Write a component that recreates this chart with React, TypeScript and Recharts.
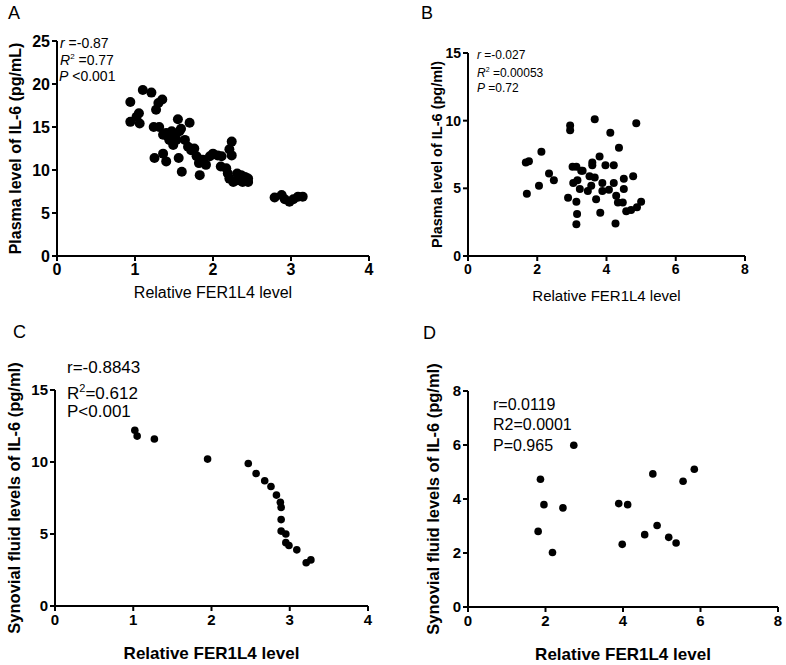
import React from "react";
import {
  ScatterChart,
  Scatter,
  XAxis,
  YAxis,
  Label,
} from "recharts";

// Panel A: plasma IL-6 vs FER1L4 (strong negative)
const plasmaFerA = [
  0.94, 0.94, 1.02, 1.05, 1.06, 1.1, 1.21, 1.27, 1.3, 1.35, 1.24, 1.31, 1.36,
  1.25, 1.36, 1.4, 1.42, 1.47, 1.51, 1.49, 1.55, 1.57, 1.59, 1.56, 1.6, 1.7,
  1.64, 1.68, 1.72, 1.76, 1.79, 1.82, 1.83, 1.87, 1.91, 1.96, 2.0, 2.06, 2.11,
  2.1, 2.17, 2.19, 2.21, 2.24, 2.24, 2.21, 2.26, 2.31, 2.36, 2.41, 2.45, 2.45,
  2.38, 2.32, 1.4, 1.44, 1.53, 2.79, 2.88, 2.92, 2.98, 3.03, 3.09, 3.15,
];
const plasmaIl6A = [
  17.9, 15.6, 16.2, 16.6, 15.4, 19.3, 19.0, 17.0, 17.8, 18.2, 15.0, 15.0, 14.1,
  11.4, 11.9, 11.0, 13.9, 14.5, 13.9, 12.9, 15.9, 14.5, 14.8, 11.4, 9.8, 15.5,
  13.5, 12.7, 12.3, 12.5, 11.6, 10.8, 9.4, 11.2, 10.6, 11.6, 11.9, 11.7, 11.6,
  10.4, 10.2, 9.6, 12.4, 13.3, 11.7, 9.0, 8.6, 9.6, 9.4, 9.2, 9.0, 8.6,
  8.6, 8.8, 14.3, 13.5, 13.5, 6.8, 7.1, 6.6, 6.3, 6.6, 6.9, 6.9,
];

// Panel B: plasma IL-6 vs FER1L4 (no correlation)
const plasmaFerB = [
  1.67, 1.76, 1.7, 2.12, 2.05, 2.34, 2.48, 2.95, 2.95, 3.66, 4.11, 4.86, 4.36,
  3.8, 3.59, 3.59, 3.97, 4.21, 3.02, 3.13, 3.27, 3.31, 3.04, 3.16, 3.23, 2.89,
  3.13, 3.15, 3.13, 3.51, 3.66, 3.46, 3.56, 3.7, 3.82, 3.88, 3.88, 4.07, 4.21,
  4.28, 4.33, 4.47, 4.26, 4.5, 4.5, 4.77, 4.57, 4.71, 4.88, 5.0,
];
const plasmaIl6B = [
  6.9, 7.0, 4.6, 7.7, 5.2, 6.1, 5.6, 9.65, 9.3, 10.1, 9.1, 9.8, 8.0,
  7.35, 6.9, 6.7, 6.7, 6.7, 6.6, 6.6, 6.3, 6.3, 5.4, 5.6, 4.95, 4.3,
  4.0, 3.1, 2.35, 5.9, 5.8, 4.8, 5.2, 4.2, 3.2, 5.4, 4.8, 4.9, 5.4,
  4.45, 3.96, 3.96, 2.4, 5.7, 4.95, 5.9, 3.3, 3.4, 3.6, 4.0,
];

// Panel C: synovial IL-6 vs FER1L4 (negative)
const synovialFerC = [
  1.02, 1.05, 1.27, 1.95, 2.47, 2.57, 2.68, 2.76, 2.83, 2.88, 2.89, 2.89, 2.89,
  2.95, 2.95, 2.99, 3.09, 3.21, 3.27,
];
const synovialIl6C = [
  12.2, 11.8, 11.6, 10.2, 9.9, 9.2, 8.7, 8.3, 7.7, 7.2, 6.85, 6.0, 5.2,
  5.0, 4.4, 4.2, 3.9, 3.0, 3.2,
];

// Panel D: synovial IL-6 vs FER1L4 (no correlation)
const synovialFerD = [
  1.81, 1.87, 1.96, 2.18, 2.45, 2.73, 3.89, 4.12, 3.98, 4.56, 4.77, 4.88, 5.18,
  5.37, 5.55, 5.84,
];
const synovialIl6D = [
  2.8, 4.73, 3.79, 2.02, 3.67, 5.99, 3.83, 3.79, 2.32, 2.68, 4.93, 3.02, 2.58,
  2.37, 4.66, 5.1,
];

const ticksX4 = [0, 1, 2, 3, 4];
const ticksX8 = [0, 2, 4, 6, 8];
const ticksY25 = [0, 5, 10, 15, 20, 25];
const ticksY15 = [0, 5, 10, 15];
const ticksY8 = [0, 2, 4, 6, 8];

const FONT = '"Liberation Sans", Arial, sans-serif';

const zip = (xs: number[], ys: number[]) => xs.map((x, i) => ({ x, y: ys[i] }));

type PanelProps = {
  left: number;
  top: number;
  width: number;
  height: number;
  margin: { top: number; right: number; left: number; bottom: number };
  yAxisWidth: number;
  data: { x: number; y: number }[];
  xTicks: number[];
  yTicks: number[];
  dot: number;
  tickSize: number;
  yTitle: string;
  yTitleOffset: number;
  yTitleSize: number;
  xTitleOffset: number;
  xTitleSize: number;
  xTitleWeight: number | string;
};

function Panel(p: PanelProps) {
  const tickStyle = { fontSize: p.tickSize, fontWeight: 700, fill: "#000", fontFamily: FONT };
  return (
    <div style={{ position: "absolute", left: p.left, top: p.top }}>
      <ScatterChart width={p.width} height={p.height} margin={p.margin}>
        <XAxis
          type="number"
          dataKey="x"
          domain={[p.xTicks[0], p.xTicks[p.xTicks.length - 1]]}
          ticks={p.xTicks}
          tick={tickStyle}
          axisLine={{ stroke: "#000", strokeWidth: 2 }}
          tickLine={{ stroke: "#000", strokeWidth: 2 }}
          tickSize={5}
          tickMargin={3}
          height={30}
        >
          <Label
            value="Relative FER1L4 level"
            position="insideTop"
            offset={p.xTitleOffset}
            style={{ fontSize: p.xTitleSize, fontWeight: p.xTitleWeight, fill: "#000", fontFamily: FONT }}
          />
        </XAxis>
        <YAxis
          type="number"
          dataKey="y"
          domain={[p.yTicks[0], p.yTicks[p.yTicks.length - 1]]}
          ticks={p.yTicks}
          tick={tickStyle}
          axisLine={{ stroke: "#000", strokeWidth: 2 }}
          tickLine={{ stroke: "#000", strokeWidth: 2 }}
          tickSize={5}
          tickMargin={2}
          width={p.yAxisWidth}
        >
          <Label
            value={p.yTitle}
            angle={-90}
            position="insideLeft"
            offset={p.yTitleOffset}
            style={{
              textAnchor: "middle",
              fontSize: p.yTitleSize,
              fontWeight: 700,
              fill: "#000",
              fontFamily: FONT,
            }}
          />
        </YAxis>
        <Scatter
          data={p.data}
          isAnimationActive={false}
          shape={(s: any) => <circle cx={s.cx} cy={s.cy} r={p.dot} fill="#000" />}
        />
      </ScatterChart>
    </div>
  );
}

function TextAt({
  x,
  y,
  size,
  children,
}: {
  x: number;
  y: number;
  size: number;
  children: React.ReactNode;
}) {
  return (
    <div
      style={{
        position: "absolute",
        left: x,
        top: y - size * 0.49,
        fontSize: size,
        lineHeight: 1,
        whiteSpace: "nowrap",
        fontFamily: FONT,
        color: "#000",
      }}
    >
      {children}
    </div>
  );
}

export default function App() {
  return (
    <div
      style={{
        position: "absolute",
        left: 0,
        top: 0,
        width: 786,
        height: 665,
        background: "#fff",
        fontFamily: FONT,
      }}
    >
      <Panel
        left={0}
        top={0}
        width={393}
        height={320}
        margin={{ top: 41, right: 24, left: 0, bottom: 34 }}
        yAxisWidth={57}
        data={zip(plasmaFerA, plasmaIl6A)}
        xTicks={ticksX4}
        yTicks={ticksY25}
        dot={5}
        tickSize={16}
        yTitle="Plasma level of IL-6 (pg/mL)"
        yTitleOffset={15}
        yTitleSize={16}
        xTitleOffset={31}
        xTitleSize={16}
        xTitleWeight={400}
      />
      <Panel
        left={393}
        top={0}
        width={393}
        height={320}
        margin={{ top: 53, right: 41, left: 0, bottom: 34 }}
        yAxisWidth={75}
        data={zip(plasmaFerB, plasmaIl6B)}
        xTicks={ticksX8}
        yTicks={ticksY15}
        dot={4}
        tickSize={14}
        yTitle="Plasma level of IL-6 (pg/ml)"
        yTitleOffset={44}
        yTitleSize={14.5}
        xTitleOffset={34}
        xTitleSize={15}
        xTitleWeight={400}
      />
      <Panel
        left={0}
        top={320}
        width={393}
        height={345}
        margin={{ top: 70, right: 25, left: 0, bottom: 29 }}
        yAxisWidth={55}
        data={zip(synovialFerC, synovialIl6C)}
        xTicks={ticksX4}
        yTicks={ticksY15}
        dot={3.8}
        tickSize={15}
        yTitle="Synovial fluid levels of IL-6 (pg/ml)"
        yTitleOffset={14}
        yTitleSize={16.5}
        xTitleOffset={41}
        xTitleSize={17}
        xTitleWeight={700}
      />
      <Panel
        left={393}
        top={320}
        width={393}
        height={345}
        margin={{ top: 71, right: 8, left: 0, bottom: 28 }}
        yAxisWidth={75}
        data={zip(synovialFerD, synovialIl6D)}
        xTicks={ticksX8}
        yTicks={ticksY8}
        dot={3.8}
        tickSize={15}
        yTitle="Synovial fluid levels of IL-6 (pg/ml)"
        yTitleOffset={40}
        yTitleSize={16.5}
        xTitleOffset={41}
        xTitleSize={17}
        xTitleWeight={700}
      />

      {/* panel letters */}
      <TextAt x={8} y={13} size={18}>A</TextAt>
      <TextAt x={421} y={13} size={18}>B</TextAt>
      <TextAt x={13} y={332} size={18}>C</TextAt>
      <TextAt x={423} y={333} size={18}>D</TextAt>

      {/* panel A stats */}
      <TextAt x={60} y={43} size={14}>
        <i>r</i> =-0.87
      </TextAt>
      <TextAt x={60} y={60} size={14}>
        <i>R</i>
        <sup style={{ fontSize: 8 }}>2</sup> =0.77
      </TextAt>
      <TextAt x={59} y={76} size={14}>
        <i>P</i> &lt;0.001
      </TextAt>

      {/* panel B stats */}
      <TextAt x={477} y={55} size={12}>
        <i>r</i> =-0.027
      </TextAt>
      <TextAt x={477} y={72} size={12}>
        <i>R</i>
        <sup style={{ fontSize: 7 }}>2</sup> =0.00053
      </TextAt>
      <TextAt x={477} y={88} size={12}>
        <i>P</i> =0.72
      </TextAt>

      {/* panel C stats */}
      <TextAt x={67} y={367} size={17}>r=-0.8843</TextAt>
      <TextAt x={67} y={391} size={17}>
        R<sup style={{ fontSize: 11 }}>2</sup>=0.612
      </TextAt>
      <TextAt x={67} y={411} size={17}>P&lt;0.001</TextAt>

      {/* panel D stats */}
      <TextAt x={493} y={405} size={16}>r=0.0119</TextAt>
      <TextAt x={493} y={425} size={16}>R2=0.0001</TextAt>
      <TextAt x={493} y={446} size={16}>P=0.965</TextAt>
    </div>
  );
}
